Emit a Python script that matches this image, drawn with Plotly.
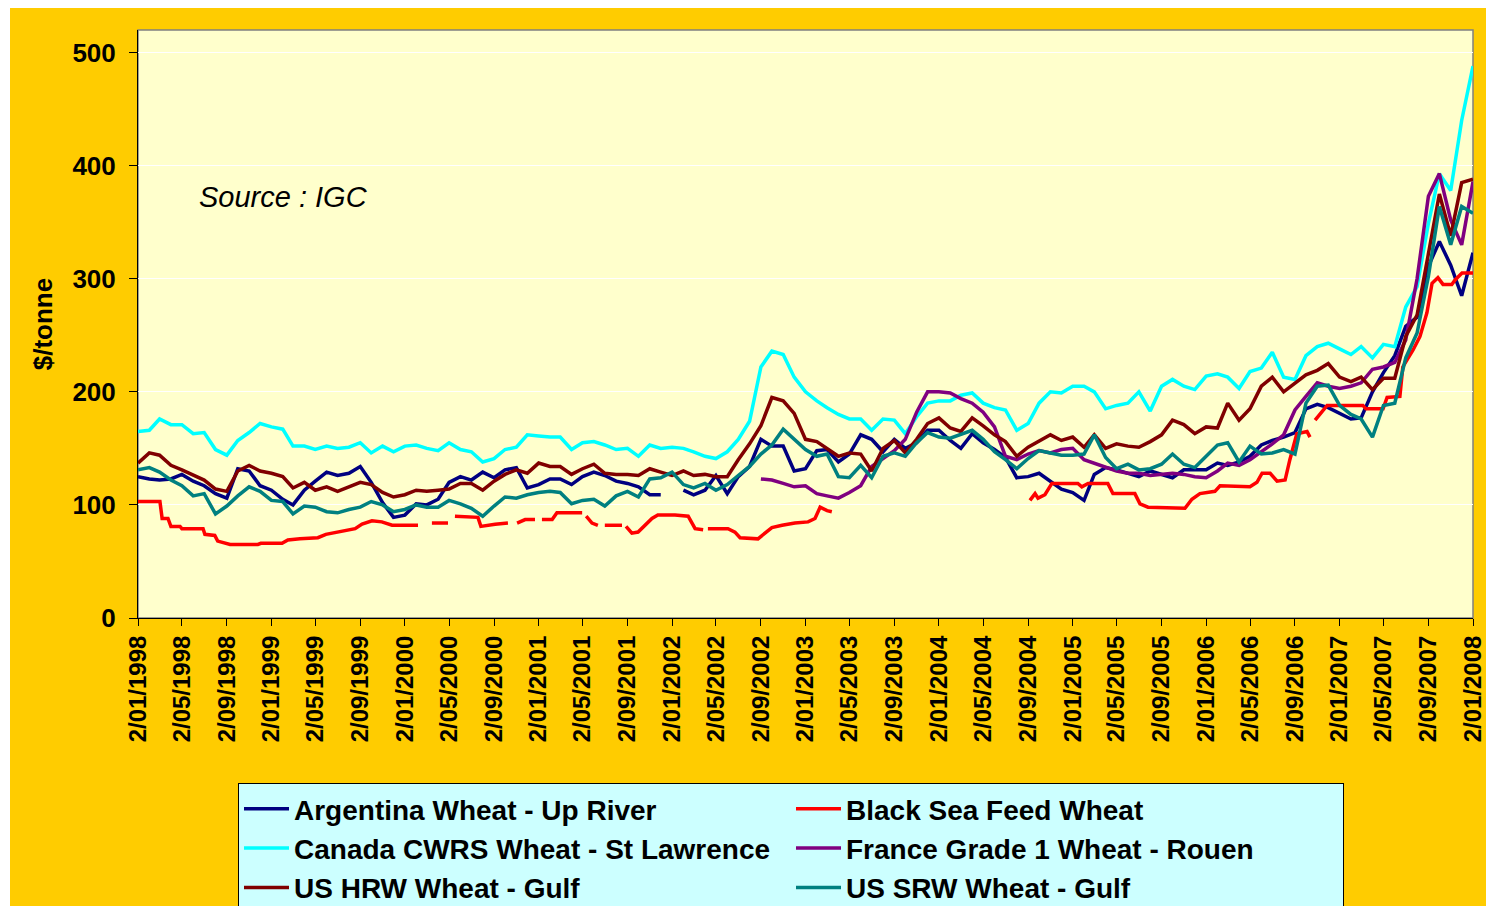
import plotly.graph_objects as go

# ---------------- data ----------------
# monthly index (2nd of each month), Jan 1998 .. Jan 2008
months = [f"{1998 + i // 12}-{i % 12 + 1:02d}-02" for i in range(121)]

argentina = [
    125, 123, 122, 123, 127, 121, 117, 110, 106, 132,
    130, 117, 113, 105, 100, 113, 121, 129, 126, 128,
    134, 120, 102, 89, 91, 101, 100, 105, 120, 125,
    122, 129, 124, 131, 133, 115, 118, 123, 123, 118,
    125, 129, 126, 121, 119, 116, 109, 109, None, 113,
    109, 113, 126, 110, 125, 134, 158, 152, 152, 130,
    132, 148, 149, 138, 145, 162, 158, 147, 158, 150,
    155, 166, 166, 157, 150, 163, 155, 149, 142, 124,
    125, 128, 121, 114, 111, 104, 127, 133, 131, 128,
    125, 130, 127, 124, 131, 131, 131, 137, 135, 138,
    143, 153, 157, 160, 164, 185, 189, 186, 181, 176,
    177, 200, 217, 232, 258, 266, 311, 333, 312, 285,
    323,
]

canada = [
    165, 166, 176, 171, 171, 163, 164, 149, 144, 157,
    164, 172, 169, 167, 152, 152, 149, 152, 150, 151,
    155, 146, 152, 147, 152, 153, 150, 148, 155, 149,
    147, 138, 141, 149, 151, 162, 161, 160, 160, 149,
    155, 156, 153, 149, 150, 143, 153, 150, 151, 150,
    147, 143, 141, 147, 158, 174, 222, 236, 233, 213,
    200, 192, 186, 180, 176, 176, 166, 176, 175, 163,
    178, 190, 192, 192, 197, 199, 190, 186, 184, 166,
    172, 190, 200, 199, 205, 205, 200, 185, 188, 190,
    200, 183, 205, 211, 205, 202, 214, 216, 213, 203,
    218, 221, 235, 213, 211, 232, 240, 243, 238, 233,
    240, 230, 242, 240, 275, 293, 349, 393, 378, 440,
    488,
]

france = [None] * 56 + [
    123, 122, 119, 116,
    117, 110, 108, 106, 111, 117, 134, 141, 148, 158,
    182, 200, 200, 199, 194, 190, 182, 169, 143, 140,
    145, 148, 146, 149, 150, 140, 137, 134, 130, 128,
    128, 126, 127, 128, 127, 125, 124, 130, 137, 135,
    140, 147, 154, 162, 184, 196, 208, 205, 203, 205,
    208, 220, 222, 226, 246, 300, 373, 393, 352, 330,
    386,
]

us_hrw = [
    137, 146, 144, 135, 131, 126, 122, 114, 112, 130,
    135, 130, 128, 125, 115, 120, 113, 116, 112, 116,
    120, 118, 111, 107, 109, 113, 112, 113, 114, 119,
    119, 113, 121, 127, 131, 128, 137, 134, 134, 127,
    132, 136, 128, 127, 127, 126, 132, 129, 126, 130,
    126, 127, 125, 125, 140, 154, 170, 195, 192, 181,
    158, 156, 150, 143, 146, 145, 130, 150, 157, 146,
    158, 172, 177, 168, 165, 177, 170, 162, 156, 143,
    151, 156, 162, 157, 160, 151, 162, 150, 154, 152,
    151, 156, 162, 175, 171, 163, 169, 168, 190, 175,
    185, 205, 213, 200, 208, 215, 219, 225, 213, 209,
    213, 202, 212, 212, 249, 268, 322, 375, 338, 385,
    388,
]

us_srw = [
    131, 133, 129, 122, 117, 108, 110, 92, 99, 108,
    116, 112, 104, 103, 92, 99, 98, 94, 93, 96,
    98, 103, 100, 94, 96, 100, 98, 98, 104, 101,
    97, 90, 99, 107, 106, 109, 111, 112, 111, 101,
    104, 105, 99, 108, 112, 107, 123, 124, 129, 118,
    115, 119, 113, 118, 126, 134, 145, 153, 167, 158,
    149, 143, 145, 125, 124, 135, 124, 143, 146, 143,
    155, 164, 160, 159, 162, 166, 158, 147, 140, 132,
    141, 148, 146, 144, 144, 145, 162, 142, 132, 136,
    131, 132, 136, 145, 136, 133, 143, 153, 155, 138,
    152, 145, 146, 149, 145, 190, 205, 206, 188, 180,
    176, 160, 188, 190, 230, 252, 302, 364, 330, 364,
    358,
]

# Black Sea feed wheat: irregular quotes, None marks a break in the series
black_sea_points = [
    ("1998-01-02", 103), ("1998-03-03", 103), ("1998-03-09", 88), ("1998-03-25", 88),
    ("1998-04-02", 81), ("1998-04-27", 81), ("1998-05-02", 79), ("1998-06-29", 79),
    ("1998-07-04", 74), ("1998-07-31", 73), ("1998-08-08", 68), ("1998-09-05", 66),
    ("1998-09-11", 65), ("1998-11-26", 65), ("1998-12-04", 66), ("1999-01-31", 66),
    ("1999-02-16", 69), ("1999-03-21", 70), ("1999-05-09", 71), ("1999-05-31", 74),
    ("1999-06-28", 76), ("1999-08-19", 79), ("1999-09-07", 83), ("1999-10-04", 86),
    ("1999-10-31", 85), ("1999-11-28", 82), ("2000-02-07", 82), ("2000-02-07", None),
    ("2000-03-16", 84), ("2000-04-29", 84), ("2000-04-29", None),
    ("2000-05-18", 90), ("2000-07-20", 89), ("2000-07-28", 81), ("2000-09-05", 83),
    ("2000-10-10", 84), ("2000-10-10", None),
    ("2000-11-04", 84), ("2000-11-26", 87), ("2000-12-23", 87), ("2000-12-23", None),
    ("2001-01-11", 87), ("2001-02-08", 87), ("2001-02-21", 93), ("2001-05-01", 93),
    ("2001-05-01", None),
    ("2001-05-12", 90), ("2001-05-28", 84), ("2001-06-13", 82), ("2001-06-13", None),
    ("2001-07-02", 82), ("2001-08-18", 82), ("2001-08-18", None),
    ("2001-08-29", 81), ("2001-09-14", 75), ("2001-10-01", 76), ("2001-10-20", 82),
    ("2001-11-08", 88), ("2001-11-24", 91), ("2002-01-10", 91), ("2002-02-15", 90),
    ("2002-03-06", 79), ("2002-03-28", 78), ("2002-03-28", None),
    ("2002-04-10", 79), ("2002-06-04", 79), ("2002-06-23", 76), ("2002-07-07", 71),
    ("2002-08-25", 70), ("2002-09-13", 75), ("2002-10-02", 80), ("2002-10-30", 82),
    ("2002-12-04", 84), ("2003-01-09", 85), ("2003-01-28", 88), ("2003-02-11", 98),
    ("2003-03-02", 95), ("2003-03-15", 94), ("2003-03-15", None),
    ("2004-09-07", 104), ("2004-09-21", 110), ("2004-09-29", 106), ("2004-10-18", 109),
    ("2004-11-06", 119), ("2005-01-16", 119), ("2005-01-27", 116), ("2005-02-13", 119),
    ("2005-04-08", 119), ("2005-04-22", 110), ("2005-06-21", 110), ("2005-07-05", 101),
    ("2005-07-27", 98), ("2005-11-05", 97), ("2005-11-24", 105), ("2005-12-16", 110),
    ("2006-01-26", 112), ("2006-02-09", 117), ("2006-05-02", 116), ("2006-05-21", 120),
    ("2006-06-04", 128), ("2006-06-26", 128), ("2006-07-15", 121), ("2006-08-06", 122),
    ("2006-08-19", 140), ("2006-09-07", 163), ("2006-10-05", 165), ("2006-10-13", 160),
    ("2006-10-13", None),
    ("2006-10-27", 175), ("2006-11-29", 188), ("2007-03-07", 188), ("2007-03-15", 185),
    ("2007-05-01", 185), ("2007-05-12", 195), ("2007-06-16", 196), ("2007-06-24", 222),
    ("2007-07-22", 237), ("2007-08-10", 249), ("2007-08-29", 270), ("2007-09-12", 296),
    ("2007-09-28", 301), ("2007-10-12", 295), ("2007-11-05", 295), ("2007-11-14", 299),
    ("2007-12-03", 305), ("2008-01-02", 305),
]
black_sea_dates = [d for d, _ in black_sea_points]
black_sea = [v for _, v in black_sea_points]

series_names = [
    "Argentina Wheat - Up River",
    "Black Sea Feed Wheat",
    "Canada CWRS Wheat - St Lawrence",
    "France Grade 1 Wheat - Rouen",
    "US HRW Wheat - Gulf",
    "US SRW Wheat - Gulf",
]
series_x = [months, black_sea_dates, months, months, months, months]
series_y = [argentina, black_sea, canada, france, us_hrw, us_srw]
series_colors = ["#000080", "#FF0000", "#00FFFF", "#800080", "#800000", "#008080"]

y_ticks = [0, 100, 200, 300, 400, 500]

# ---------------- figure ----------------
FONT = "Arial, Liberation Sans, Helvetica, sans-serif"
W, H = 1486, 906
L, R, T, B = 138, 13, 30, 288
PW, PH = W - L - R, H - T - B


def px(xp):
    return (xp - L) / PW


def py(yp):
    return (H - B - yp) / PH


fig = go.Figure()
for name, xs, ys, col in zip(series_names, series_x, series_y, series_colors):
    fig.add_trace(go.Scatter(
        x=xs, y=ys, name=name, mode="lines",
        line=dict(color=col, width=3.5), connectgaps=False,
    ))

fig.update_layout(
    width=W, height=H,
    margin=dict(l=L, r=R, t=T, b=B, autoexpand=False),
    paper_bgcolor="#FFCC00",
    plot_bgcolor="#FFFFCC",
    font=dict(family=FONT, color="black"),
    showlegend=True,
    legend=dict(
        orientation="h",
        x=px(238), y=py(783), xanchor="left", yanchor="top",
        bgcolor="#CCFFFF", bordercolor="black", borderwidth=1,
        font=dict(family=FONT, size=28, color="black", weight="bold"),
        entrywidth=492, entrywidthmode="pixels",
        itemwidth=45,
        traceorder="normal",
    ),
    xaxis=dict(
        type="date",
        range=["1998-01-02", "2008-01-02"],
        tick0="1998-01-02", dtick="M4",
        tickformat="%-d/%m/%Y",
        tickangle=-90,
        ticks="outside", ticklen=7, tickcolor="black", tickwidth=1,
        showline=True, linecolor="black", linewidth=1,
        showgrid=False, zeroline=False,
        tickfont=dict(family=FONT, size=24, color="black", weight="bold"),
    ),
    yaxis=dict(
        range=[0, 520],
        tickvals=y_ticks,
        ticks="outside", ticklen=8, tickcolor="black", tickwidth=1,
        ticklabelstandoff=8,
        showline=True, linecolor="black", linewidth=1,
        showgrid=True, gridcolor="white", gridwidth=1,
        zeroline=False,
        tickfont=dict(family=FONT, size=26, color="black", weight="bold"),
        title=dict(text="$/tonne", standoff=12,
                   font=dict(family=FONT, size=26, color="black", weight="bold")),
    ),
    annotations=[dict(
        text="Source : IGC", x=px(197), y=py(197),
        xref="paper", yref="paper", xanchor="left", yanchor="middle",
        showarrow=False,
        font=dict(family=FONT, size=29, color="black", style="italic"),
    )],
    shapes=[
        # white page strips at the left and top of the gold chart area
        dict(type="rect", xref="paper", yref="paper", x0=px(-5), x1=px(10),
             y0=py(H + 5), y1=py(-5), fillcolor="white", line_width=0, layer="below"),
        dict(type="rect", xref="paper", yref="paper", x0=px(-5), x1=px(W + 5),
             y0=py(8), y1=py(-5), fillcolor="white", line_width=0, layer="below"),
        # plot area border
        dict(type="rect", xref="paper", yref="paper", x0=0, x1=1, y0=0, y1=1,
             line=dict(color="#808080", width=1.5), fillcolor="rgba(0,0,0,0)",
             layer="below"),
    ],
)

fig.write_html(
    "out.html",
    config={"displayModeBar": False},
    post_script="document.documentElement.style.overflow='hidden';"
                "document.body.style.overflow='hidden';"
                "document.body.style.margin='0';",
)
